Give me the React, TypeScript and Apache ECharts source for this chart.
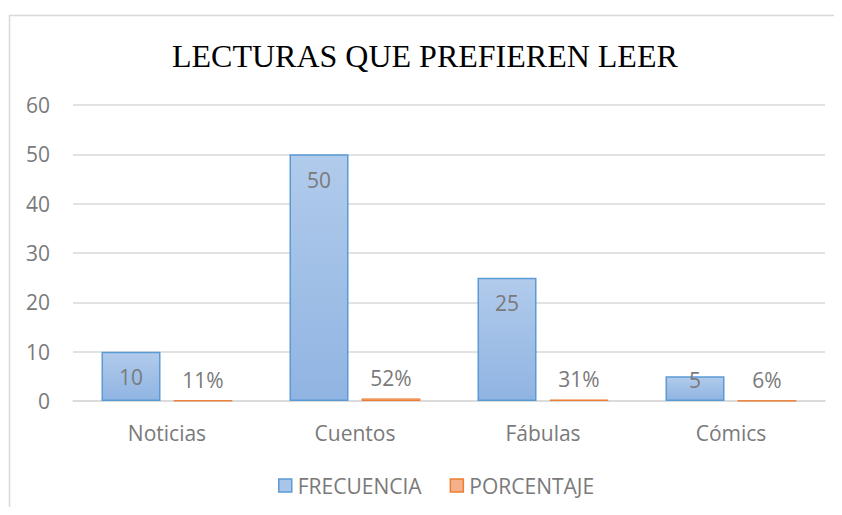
import React, { useEffect, useRef } from "react";
import * as echarts from "echarts";

const categories = ["Noticias", "Cuentos", "Fábulas", "Cómics"];
const frecuencia = [10, 50, 25, 5];
const porcentaje = [0.11, 0.52, 0.31, 0.06];
const yTicks = { min: 0, max: 60, interval: 10 };
const titleText = "LECTURAS QUE PREFIEREN LEER";

const FONT = "Open Sans";
const FS = 21;
const GRAY = "#7a7a7a";

export default function App() {
  const ref = useRef<HTMLDivElement>(null);
  useEffect(() => {
    if (!ref.current) return;
    const chart = echarts.init(ref.current, null, { renderer: "svg" });
    const blueFill = new echarts.graphic.LinearGradient(0, 0, 0, 1, [
      { offset: 0, color: "#b1cbeb" },
      { offset: 1, color: "#90b4e2" },
    ]);
    const orangeFill = new echarts.graphic.LinearGradient(0, 0, 0, 1, [
      { offset: 0, color: "#f6b48f" },
      { offset: 1, color: "#f19a66" },
    ]);
    chart.setOption({
      animation: false,
      backgroundColor: "#ffffff",
      graphic: [
        {
          type: "rect",
          shape: { x: 9.5, y: 15.5, width: 900, height: 600 },
          style: { fill: "none", stroke: "#d9d9d9", lineWidth: 1.5 },
          silent: true,
          z: -1,
        },
      ],
      title: {
        text: titleText,
        left: 167,
        top: 35,
        textStyle: {
          fontFamily: "Liberation Serif",
          fontSize: 32,
          fontWeight: "normal",
          color: "#000000",
        },
      },
      legend: {
        bottom: 14,
        left: 273,
        icon: "rect",
        itemWidth: 13,
        itemHeight: 13,
        itemGap: 28,
        textStyle: { fontFamily: FONT, fontSize: FS, color: GRAY, padding: [0, 0, 0, 1] },
        data: [
          { name: "FRECUENCIA", itemStyle: { color: "#a9c5ea", borderColor: "#5b9bd5", borderWidth: 1.5 } },
          { name: "PORCENTAJE", itemStyle: { color: "#f5b08a", borderColor: "#ed7d31", borderWidth: 1.5 } },
        ],
      },
      grid: { left: 73, right: 17, top: 105, bottom: 114, containLabel: false },
      xAxis: {
        type: "category",
        data: categories,
        axisLine: { lineStyle: { color: "#d9d9d9", width: 1.5 } },
        axisTick: { show: false },
        axisLabel: { fontFamily: FONT, fontSize: FS, color: GRAY, margin: 21 },
      },
      yAxis: {
        type: "value",
        min: yTicks.min,
        max: yTicks.max,
        interval: yTicks.interval,
        axisLine: { show: false },
        axisTick: { show: false },
        splitLine: { lineStyle: { color: "#d9d9d9", width: 1.5 } },
        axisLabel: { fontFamily: FONT, fontSize: FS, color: GRAY, margin: 23 },
      },
      series: [
        {
          name: "FRECUENCIA",
          type: "bar",
          barWidth: 59,
          barGap: "22%",
          data: frecuencia.map((v) =>
            v < 8
              ? { value: v, label: { position: "insideBottom", distance: 11 } }
              : v
          ),
          itemStyle: { color: blueFill, borderColor: "#5b9bd5", borderWidth: 1.5 },
          label: {
            show: true,
            position: "insideTop",
            distance: 15,
            fontFamily: FONT,
            fontSize: FS,
            color: GRAY,
          },
        },
        {
          name: "PORCENTAJE",
          type: "bar",
          barWidth: 59,
          data: porcentaje,
          itemStyle: { color: orangeFill, borderColor: "#ed7d31", borderWidth: 1 },
          label: {
            show: true,
            position: "top",
            distance: 10,
            fontFamily: FONT,
            fontSize: FS,
            color: GRAY,
            formatter: (p: any) => Math.round(p.value * 100) + "%",
          },
        },
      ],
    });
    return () => chart.dispose();
  }, []);
  return <div ref={ref} style={{ width: 842, height: 515, margin: -8 }} />;
}
